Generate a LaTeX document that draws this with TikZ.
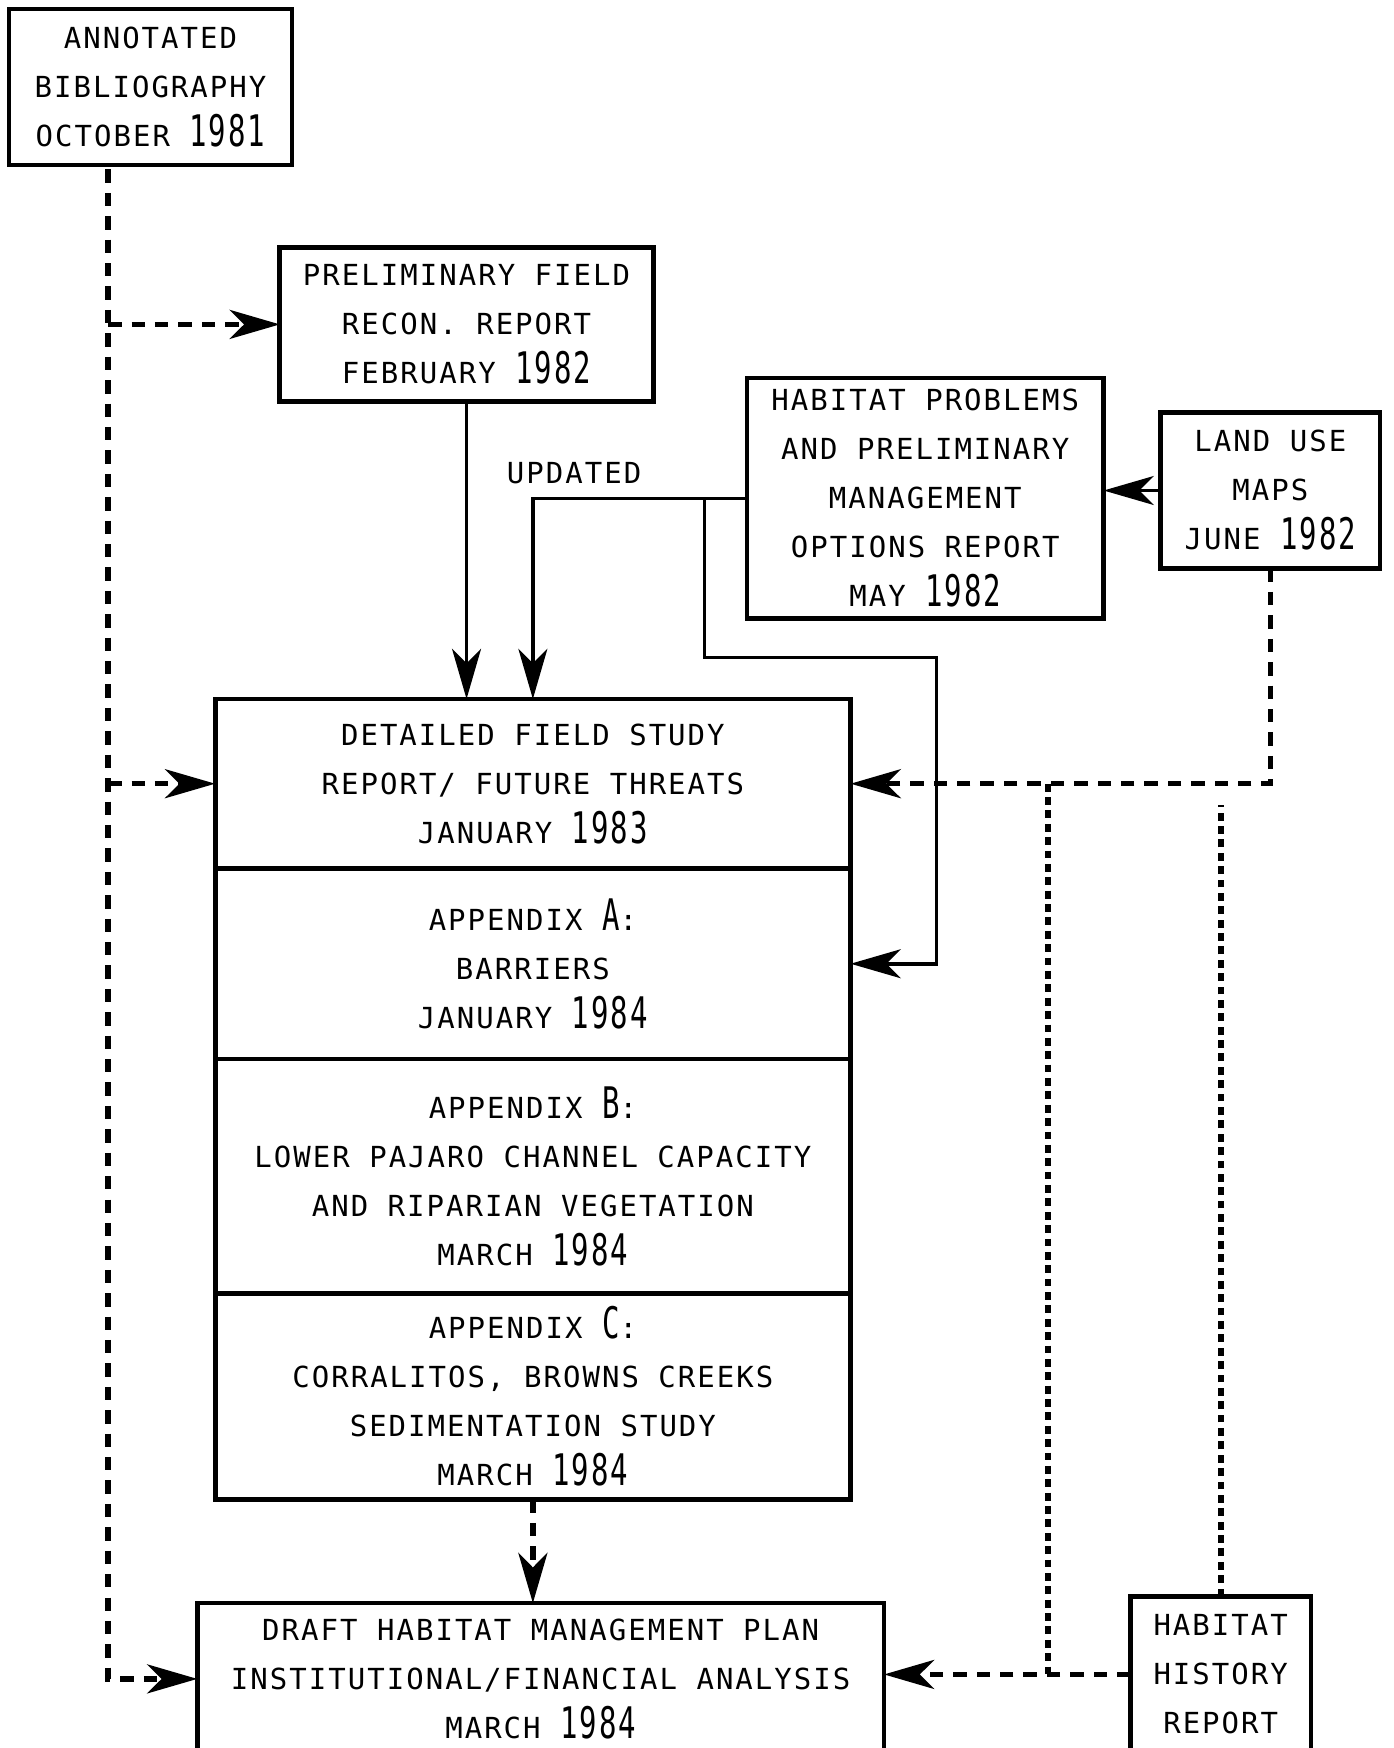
\documentclass[tikz,border=0pt]{standalone}
\usepackage{fontspec}
\newfontfamily\typefont[LetterSpace=7]{DejaVu Sans Mono}
\usetikzlibrary{arrows.meta,positioning}
\newcommand{\yr}[1]{\scalebox{1}[1.5]{#1}}

\begin{document}
\begin{tikzpicture}[x=1cm, y=-1cm,
  font=\typefont\fontsize{7.4}{12.5}\selectfont,
  rep/.style={draw, line width=1.2pt, outer sep=0pt, inner sep=0pt, align=center},
  feed/.style={line width=0.9pt, -{Stealth[length=4.5mm, width=2.6mm, inset=1.3mm]}},
  lnk/.style={line width=1.4pt, dash pattern=on 1.2mm off 0.9mm, -{Stealth[length=4.5mm, width=2.6mm, inset=1.3mm]}},
  lnkd/.style={line width=1.6pt, dash pattern=on 0.7mm off 0.5mm}]
  \useasboundingbox (0,0) rectangle (12.50,15.68);
  \node[rep, minimum width=2.54cm, minimum height=1.40cm] (bib) at (1.35,0.78) {ANNOTATED\\BIBLIOGRAPHY\\OCTOBER \yr{1981}};
  \node[rep, minimum width=3.35cm, minimum height=1.38cm] (prelim) at (4.185,2.91) {PRELIMINARY FIELD\\RECON. REPORT\\FEBRUARY \yr{1982}};
  \node[rep, minimum width=3.20cm, minimum height=2.16cm] (habprob) at (8.30,4.47) {HABITAT PROBLEMS\\AND PRELIMINARY\\MANAGEMENT\\OPTIONS REPORT\\MAY \yr{1982}};
  \node[rep, minimum width=1.97cm, minimum height=1.40cm] (landuse) at (11.395,4.40) {LAND USE\\MAPS\\JUNE \yr{1982}};
  \node[rep, minimum width=5.70cm, minimum height=1.52cm] (det) at (4.78,7.03) {DETAILED FIELD STUDY\\REPORT/ FUTURE THREATS\\JANUARY \yr{1983}};
  \node[rep, minimum width=5.70cm, minimum height=1.71cm, below=0pt of det] (appA) {APPENDIX \yr{A}:\\BARRIERS\\JANUARY \yr{1984}};
  \node[rep, minimum width=5.70cm, minimum height=2.10cm, below=0pt of appA] (appB) {APPENDIX \yr{B}:\\LOWER PAJARO CHANNEL CAPACITY\\AND RIPARIAN VEGETATION\\MARCH \yr{1984}};
  \node[rep, minimum width=5.70cm, minimum height=1.85cm, below=0pt of appB] (appC) {APPENDIX \yr{C}:\\CORRALITOS, BROWNS CREEKS\\SEDIMENTATION STUDY\\MARCH \yr{1984}};
  \node[rep, minimum width=6.16cm, minimum height=1.36cm] (draft) at (4.85,15.06) {DRAFT HABITAT MANAGEMENT PLAN\\INSTITUTIONAL/FINANCIAL ANALYSIS\\MARCH \yr{1984}};
  \node[rep, minimum width=1.62cm, minimum height=1.40cm] (hist) at (10.95,15.02) {HABITAT\\HISTORY\\REPORT};
  \node (upd) at (5.15,4.24) {UPDATED};
  \coordinate (bibout) at (0.97,1.52);
  \coordinate (split) at (6.32,4.47);
  \coordinate (bend) at (8.40,5.90);
  \coordinate (j1) at (9.40,7.03);
  \coordinate (j2) at (9.40,15.02);
  \coordinate (hup) at (10.95,7.22);
  \draw[lnk] (bibout) |- (draft.west);
  \draw[lnk] (bibout |- prelim.west) -- (prelim.west);
  \draw[lnk] (bibout |- det.west) -- (det.west);
  \draw[feed] (prelim.south) -- (prelim.south |- det.north);
  \draw[feed] (habprob.west) -| (det.north);
  \draw[feed] (split) |- (bend) |- (appA.east);
  \draw[feed] (landuse.west) -- (landuse.west -| habprob.east);
  \draw[lnk] (landuse.south) |- (det.east);
  \draw[lnkd] (j1) -- (j2);
  \draw[lnkd] (hist.north) -- (hup);
  \draw[lnk] (hist.west) -- (hist.west -| draft.east);
  \draw[lnk] (appC.south) -- (appC.south |- draft.north);
\end{tikzpicture}
\end{document}
